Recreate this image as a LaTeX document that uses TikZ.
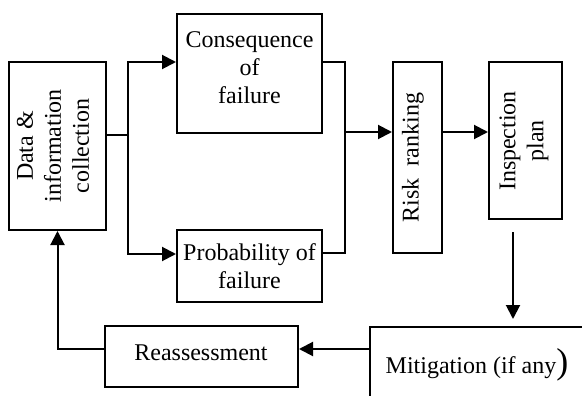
\documentclass[tikz,border=0pt]{standalone}
\usepackage{fontspec}
\setmainfont{Liberation Serif}
\usetikzlibrary{arrows.meta,calc}
\begin{document}
\begin{tikzpicture}[x=1pt,y=-1pt,
  box/.style={draw, line width=2pt, inner sep=0pt, font=\fontsize{24}{28}\selectfont, align=center},
  txt/.style={inner sep=0pt, font=\fontsize{24}{28}\selectfont, align=center},
  conn/.style={line width=2pt},
  arr/.style={conn, -{Triangle[length=14pt,width=14pt]}}]
\useasboundingbox (0,0) rectangle (582,396);
\clip (0,0) rectangle (582,396);
% boxes
\node[box, minimum width=97pt, minimum height=168pt] (data) at (57.5,146) {};
\node[txt, rotate=90] (datatext) at (53,146) {Data \&\\information\\collection};
\node[box, minimum width=145pt, minimum height=119pt] (cons) at (249.5,73.5) {};
\node[txt] (constext) at (249.5,68) {Consequence\\of\\failure};
\node[box, minimum width=145pt, minimum height=72pt] (prob) at (249.5,266) {Probability of\\failure};
\node[box, minimum width=49pt, minimum height=191pt] (risk) at (417.5,157.5) {};
\node[txt, rotate=90] (risktext) at (413,157.5) {Risk\ \ ranking};
\node[box, minimum width=73pt, minimum height=157pt] (insp) at (525.5,140.5) {};
\node[txt, rotate=90] (insptext) at (524,141) {Inspection\\plan};
\node[box, minimum width=240pt, minimum height=100pt, anchor=north west] (mit) at (369,326) {};
\node[txt] (mittext) at (477,365) {Mitigation (if any{\fontsize{36}{36}\selectfont)}};
\node[box, minimum width=193pt, minimum height=61pt] (reass) at (201.5,356.5) {};
\node[txt] (reasstext) at (201,353) {Reassessment};
% helper coordinates
\coordinate (j1) at (128,135);
\coordinate (ya) at (0,62);
\coordinate (yb) at (0,254);
\coordinate (j2u) at (345,62);
\coordinate (j2d) at (345,253);
\coordinate (j2) at (345,132);
\coordinate (ax) at (513,0);
\coordinate (m1) at (0,349);
% connectors
\draw[conn] (data.east |- j1) -- (j1);
\draw[arr] (j1) |- (cons.west |- ya);
\draw[arr] (j1) |- (prob.west |- yb);
\draw[conn] (cons.east |- j2u) -- (j2u) -- (j2d) -- (prob.east |- j2d);
\draw[arr] (j2) -- (risk.west |- j2);
\draw[arr] (risk.east |- j2) -- (insp.west |- j2);
\draw[arr, shorten <=12pt, shorten >=7pt] (insp.south -| ax) -- (mit.north -| ax);
\draw[arr] (mit.west |- m1) -- (reass.east |- m1);
\draw[arr] (reass.west |- m1) -| (data.south);
\end{tikzpicture}
\end{document}
